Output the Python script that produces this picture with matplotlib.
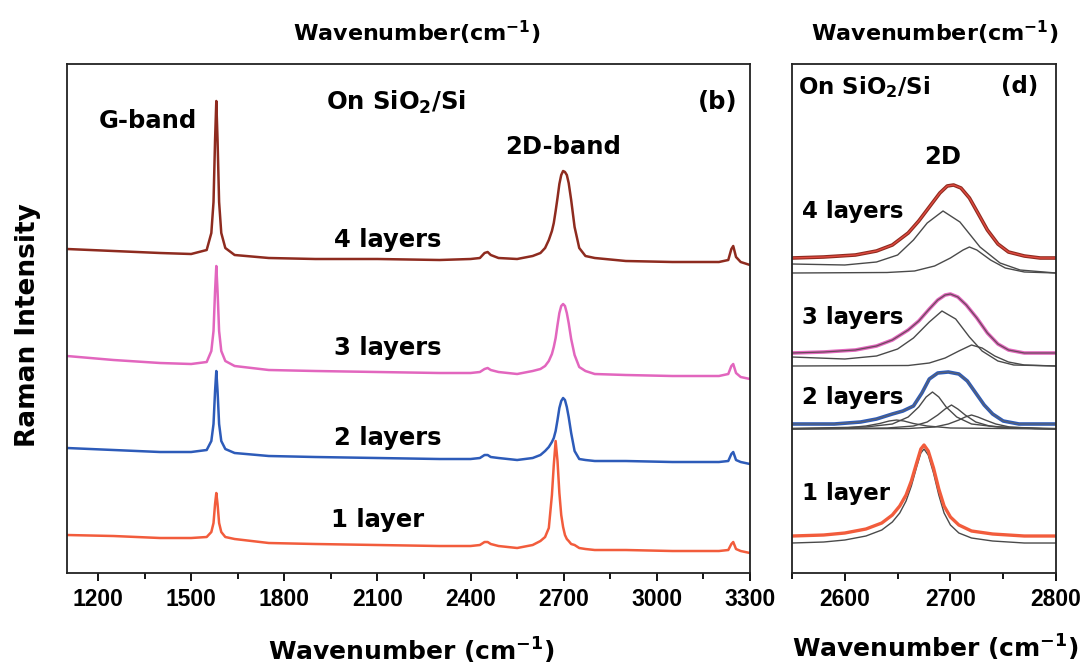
import matplotlib.pyplot as plt
from matplotlib.ticker import MultipleLocator

plt.rcParams['font.family'] = ['DejaVu Sans']
plt.rcParams['font.weight'] = 'bold'
plt.rcParams['mathtext.fontset'] = 'dejavusans'
plt.rcParams['mathtext.default'] = 'bf'

# ---- panel (b): full spectra, stacked by layer count ----
wn = [1100, 1250, 1400, 1500, 1550, 1565, 1572, 1577, 1581, 1585, 1590, 1597, 1610,
      1640, 1750, 1900, 2100, 2300, 2400, 2430, 2445, 2455, 2465, 2490, 2550, 2600,
      2625, 2640, 2652, 2662, 2668, 2674, 2680, 2686, 2692, 2698, 2704, 2710, 2716,
      2724, 2735, 2750, 2770, 2800, 2900, 3050, 3200, 3230, 3240, 3246, 3255, 3270, 3300]

layer4 = [324, 322, 320, 319, 323, 340, 371, 433, 472, 433, 371, 340, 325,
          318, 315, 314, 314, 313, 314, 315, 320, 321, 318, 315, 314, 317,
          320, 325, 333, 342, 350, 362, 375, 389, 398, 402, 401, 398, 390,
          373, 346, 325, 317, 315, 312, 311, 311, 313, 324, 327, 316, 311, 308]
layer3 = [217, 213, 210, 209, 211, 222, 242, 282, 307, 282, 242, 222, 212,
          207, 203, 202, 201, 200, 200, 201, 204, 205, 203, 201, 199, 202,
          204, 207, 212, 219, 226, 235, 248, 260, 267, 269, 267, 260, 250,
          234, 218, 206, 202, 199, 198, 197, 197, 199, 207, 209, 200, 196, 194]
layer2 = [125, 123, 121, 121, 123, 132, 149, 182, 202, 182, 149, 132, 124,
          120, 117, 116, 115, 114, 114, 115, 118, 118, 116, 115, 113, 115,
          118, 122, 126, 131, 135, 142, 153, 165, 172, 175, 173, 166, 156,
          140, 122, 114, 113, 112, 112, 111, 111, 112, 119, 121, 113, 111, 109]
layer1 = [38, 37, 35, 35, 36, 41, 50, 69, 80, 69, 50, 41, 36,
          34, 30, 29, 28, 27, 27, 28, 31, 31, 29, 27, 25, 28,
          32, 36, 45, 78, 108, 132, 112, 80, 58, 46, 38, 34, 32,
          29, 28, 25, 24, 23, 23, 22, 22, 23, 29, 31, 24, 22, 20]

# ---- panel (d): 2D band with fitted components ----
r4_x = [2550, 2580, 2610, 2630, 2645, 2660, 2670, 2680, 2690, 2697, 2703, 2710, 2718,
        2726, 2735, 2745, 2755, 2770, 2785, 2800]
r4_y = [315, 316, 318, 322, 328, 340, 352, 366, 380, 387, 388, 385, 375,
        360, 343, 329, 321, 317, 315, 315]
r4_big_x = [2550, 2600, 2630, 2650, 2665, 2678, 2693, 2709, 2728, 2747, 2766, 2800]
r4_big_y = [309, 308, 311, 318, 333, 350, 362, 351, 326, 310, 303, 300]
r4_small_x = [2550, 2640, 2666, 2685, 2700, 2712, 2718, 2725, 2738, 2752, 2770, 2800]
r4_small_y = [300, 300.5, 302, 307, 315, 323, 326, 323, 313, 305, 301, 300]

r3_x = [2550, 2580, 2610, 2630, 2645, 2660, 2670, 2680, 2688, 2695, 2700, 2707, 2715,
        2725, 2735, 2745, 2755, 2770, 2800]
r3_y = [220, 221, 223, 227, 233, 243, 252, 264, 273, 278, 279, 276, 268,
        255, 240, 229, 223, 220, 220]
r3_big_x = [2550, 2600, 2630, 2650, 2665, 2680, 2692, 2705, 2718, 2730, 2745, 2760, 2800]
r3_big_y = [216, 214, 217, 224, 235, 251, 262, 254, 236, 222, 212, 208, 207]
r3_small_x = [2550, 2660, 2680, 2695, 2708, 2720, 2730, 2742, 2755, 2770, 2800]
r3_small_y = [207, 207.5, 210, 215, 222, 228, 225, 217, 211, 208, 207]

r2_x = [2550, 2590, 2615, 2630, 2645, 2655, 2665, 2673, 2680, 2688, 2698, 2708, 2716,
        2724, 2732, 2740, 2750, 2765, 2800]
r2_y = [149, 149, 151, 154, 159, 162, 167, 180, 194, 200, 201, 199, 192,
        180, 168, 159, 152, 149, 149]
r2_c1_x = [2550, 2620, 2645, 2660, 2670, 2677, 2683, 2689, 2696, 2706, 2720, 2745, 2800]
r2_c1_y = [144.5, 146, 149, 156, 166, 176, 181, 176, 166, 156, 149, 146, 144.5]
r2_c2_x = [2550, 2640, 2665, 2678, 2688, 2695, 2701, 2707, 2714, 2724, 2737, 2760, 2800]
r2_c2_y = [144, 145, 147, 151, 158, 164, 168, 164, 158, 151, 147, 145, 144]
r2_c3_x = [2550, 2660, 2685, 2698, 2708, 2714, 2720, 2726, 2733, 2743, 2756, 2780, 2800]
r2_c3_y = [144, 144.5, 146, 149, 153, 156, 158, 156, 153, 149, 146, 144.5, 144]
r2_c4_x = [2550, 2600, 2620, 2633, 2642, 2649, 2656, 2665, 2678, 2700, 2800]
r2_c4_y = [144.5, 145, 147, 149.5, 152, 153, 152, 149.5, 147, 145, 144]

r1_x = [2550, 2580, 2600, 2620, 2635, 2645, 2652, 2658, 2663, 2668, 2672, 2675, 2679,
        2684, 2689, 2694, 2700, 2708, 2720, 2740, 2770, 2800]
r1_y = [37, 38, 40, 44, 50, 58, 67, 78, 92, 110, 124, 128, 122,
        105, 84, 67, 56, 48, 42, 39, 37, 37]
r1_fit_y = [30, 31, 33, 37, 43, 51, 60, 72, 87, 106, 120, 124, 118,
            100, 78, 60, 48, 40, 35, 32, 30, 30]

c4, c3, c2, c1 = '#8e2b1f', '#e266be', '#2d5bb9', '#f25c3c'
grey = '#4a4a4a'

fig = plt.figure(figsize=(10.89, 6.68), dpi=100)
ax1 = fig.add_axes([0.0615, 0.1422, 0.6272, 0.762])
ax2 = fig.add_axes([0.7273, 0.1422, 0.2424, 0.762])

ax1.plot(wn, layer1, color=c1, lw=1.8)
ax1.plot(wn, layer2, color=c2, lw=1.8)
ax1.plot(wn, layer3, color=c3, lw=1.8)
ax1.plot(wn, layer4, color=c4, lw=1.8)

for xs, ys in [(r4_big_x, r4_big_y), (r4_small_x, r4_small_y),
               (r3_big_x, r3_big_y), (r3_small_x, r3_small_y),
               (r2_c1_x, r2_c1_y), (r2_c2_x, r2_c2_y),
               (r2_c3_x, r2_c3_y), (r2_c4_x, r2_c4_y),
               (r1_x, r1_fit_y)]:
    ax2.plot(xs, ys, color=grey, lw=1.0)
ax2.plot(r4_x, r4_y, color=c4, lw=2.6)
ax2.plot(r4_x, r4_y, color='#e04a40', lw=1.0)
ax2.plot(r3_x, r3_y, color=c3, lw=2.6)
ax2.plot(r3_x, r3_y, color='#6a4a5a', lw=0.9)
ax2.plot(r2_x, r2_y, color=c2, lw=2.6)
ax2.plot(r2_x, r2_y, color='#5a6070', lw=0.9)
ax2.plot(r1_x, r1_y, color=c1, lw=2.4)

ax1.set_xlim(1100, 3300)
ax1.set_xticks(range(1200, 3301, 300))
ax1.xaxis.set_minor_locator(MultipleLocator(150))
ax2.set_xlim(2550, 2800)
ax2.set_xticks([2600, 2700, 2800])
ax2.xaxis.set_minor_locator(MultipleLocator(50))

for ax in (ax1, ax2):
    ax.set_ylim(0, 509)
    ax.set_yticks([])
    for s in ax.spines.values():
        s.set_linewidth(1.3)
        s.set_color('#222222')
    ax.tick_params(axis='x', which='major', direction='out', length=6, width=1.3,
                   pad=5, labelsize=16.5)
    ax.tick_params(axis='x', which='minor', direction='out', length=4.5, width=1.3)
    for lbl in ax.get_xticklabels():
        lbl.set_fontfamily('Liberation Sans')
        lbl.set_fontweight('bold')

fs = 17.5
ax1.text(1361, 452, 'G-band', fontsize=fs, ha='center', va='center')
ax1.text(2160, 471, 'On SiO$_2$/Si', fontsize=fs, ha='center', va='center')
ax1.text(3197, 471, '(b)', fontsize=fs, ha='center', va='center')
ax1.text(2698, 426, '2D-band', fontsize=fs, ha='center', va='center')
ax1.text(2134, 333, '4 layers', fontsize=fs, ha='center', va='center')
ax1.text(2134, 225, '3 layers', fontsize=fs, ha='center', va='center')
ax1.text(2134, 135, '2 layers', fontsize=fs, ha='center', va='center')
ax1.text(2102, 53, '1 layer', fontsize=fs, ha='center', va='center')

fs2 = 16.5
ax2.text(2556, 486, 'On SiO$_2$/Si', fontsize=fs2, ha='left', va='center')
ax2.text(2766, 486, '(d)', fontsize=fs2, ha='center', va='center')
ax2.text(2693, 416, '2D', fontsize=fs2 + 1, ha='center', va='center')
ax2.text(2559, 361, '4 layers', fontsize=fs2, ha='left', va='center')
ax2.text(2559, 256, '3 layers', fontsize=fs2, ha='left', va='center')
ax2.text(2559, 176, '2 layers', fontsize=fs2, ha='left', va='center')
ax2.text(2559, 80, '1 layer', fontsize=fs2, ha='left', va='center')

fig.text(417 / 1089, 1 - 33 / 668, 'Wavenumber(cm$^{-1}$)', fontsize=16,
         ha='center', va='center')
fig.text(935 / 1089, 1 - 33 / 668, 'Wavenumber(cm$^{-1}$)', fontsize=16,
         ha='center', va='center')
fig.text(411 / 1089, 1 - 651 / 668, 'Wavenumber (cm$^{-1}$)', fontsize=18,
         ha='center', va='center')
fig.text(935 / 1089, 1 - 648 / 668, 'Wavenumber (cm$^{-1}$)', fontsize=18,
         ha='center', va='center')
fig.text(28 / 1089, 1 - 325 / 668, 'Raman Intensity', fontsize=19, rotation=90,
         ha='center', va='center')

fig.savefig('out.png', dpi=100)
